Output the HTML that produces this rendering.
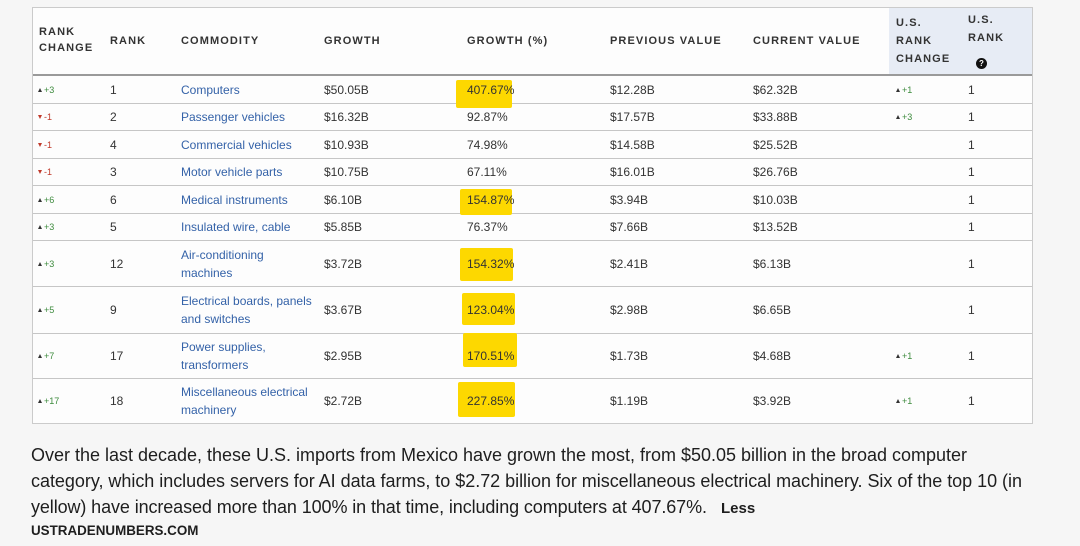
<!DOCTYPE html>
<html><head><meta charset="utf-8">
<style>
*{margin:0;padding:0;box-sizing:border-box}
body{width:1080px;height:546px;background:#f6f6f6;position:relative;overflow:hidden;font-family:"Liberation Sans",Arial,sans-serif}
.box{position:absolute;left:32px;top:7px;width:1001px;height:417px;border:1px solid #cbcbcb;background:#fdfdfd}
.hb{position:absolute;left:889px;top:8px;width:143px;height:67px;background:#e7ecf5}
.ln{position:absolute;left:33px;width:999px;height:1px;background:#c6c6c6}
.hl{position:absolute;background:#fdd800;border-radius:2px}
.h{position:absolute;font-weight:bold;font-size:11px;letter-spacing:1.1px;color:#333;line-height:16px}
.r{position:absolute;left:0;width:1080px}
.c{position:absolute;top:0;bottom:0;display:flex;align-items:center;font-size:12px;color:#333;line-height:18px;white-space:nowrap}
.b{color:#3462a8}
.rc{font-size:9px;color:#3d8b3d}
.rc.d{color:#c0392b}
.up{display:inline-block;width:0;height:0;border-left:2.5px solid transparent;border-right:2.5px solid transparent;border-bottom:4px solid #333;margin-right:2px;vertical-align:1px}
.dn{display:inline-block;width:0;height:0;border-left:2.5px solid transparent;border-right:2.5px solid transparent;border-top:4px solid #c0392b;margin-right:2px;vertical-align:0px}
.q{display:inline-block;width:11px;height:11px;border-radius:50%;background:#111;color:#fff;font-size:8px;font-weight:bold;line-height:11px;text-align:center;letter-spacing:0}
</style></head><body>
<div class="box"></div>
<div class="hb"></div>

<!-- header -->
<div class="h" style="left:39px;top:24px">RANK<br>CHANGE</div>
<div class="h" style="left:110px;top:33px">RANK</div>
<div class="h" style="left:181px;top:33px">COMMODITY</div>
<div class="h" style="left:324px;top:33px">GROWTH</div>
<div class="h" style="left:467px;top:33px">GROWTH (%)</div>
<div class="h" style="left:610px;top:33px">PREVIOUS VALUE</div>
<div class="h" style="left:753px;top:33px">CURRENT VALUE</div>
<div class="h" style="left:896px;top:14px;line-height:18px">U.S.<br>RANK<br>CHANGE</div>
<div class="h" style="left:968px;top:11px;line-height:18px">U.S.<br>RANK</div>
<div style="position:absolute;left:976px;top:53px"><span class="q">?</span></div>

<!-- lines -->
<div class="ln" style="top:74px;height:2px;background:#9a9a9a"></div>
<div class="ln" style="top:103px"></div>
<div class="ln" style="top:130px"></div>
<div class="ln" style="top:158px"></div>
<div class="ln" style="top:185px"></div>
<div class="ln" style="top:213px"></div>
<div class="ln" style="top:240px"></div>
<div class="ln" style="top:286px"></div>
<div class="ln" style="top:333px"></div>
<div class="ln" style="top:378px"></div>

<!-- highlights -->
<div class="hl" style="left:456px;top:80px;width:56px;height:28px"></div>
<div class="hl" style="left:460px;top:189px;width:52px;height:26px"></div>
<div class="hl" style="left:460px;top:248px;width:53px;height:33px"></div>
<div class="hl" style="left:462px;top:293px;width:53px;height:32px"></div>
<div class="hl" style="left:463px;top:333px;width:54px;height:34px"></div>
<div class="hl" style="left:458px;top:382px;width:57px;height:35px"></div>

<!-- rows -->
<div class="r" style="top:76px;height:27px">
<div class="c rc" style="left:38px"><span class="up"></span>+3</div><div class="c" style="left:110px">1</div><div class="c b" style="left:181px">Computers</div><div class="c" style="left:324px">$50.05B</div><div class="c" style="left:467px">407.67%</div><div class="c" style="left:610px">$12.28B</div><div class="c" style="left:753px">$62.32B</div><div class="c rc" style="left:896px"><span class="up"></span>+1</div><div class="c" style="left:968px">1</div>
</div>
<div class="r" style="top:104px;height:26px">
<div class="c rc d" style="left:38px"><span class="dn"></span>-1</div><div class="c" style="left:110px">2</div><div class="c b" style="left:181px">Passenger vehicles</div><div class="c" style="left:324px">$16.32B</div><div class="c" style="left:467px">92.87%</div><div class="c" style="left:610px">$17.57B</div><div class="c" style="left:753px">$33.88B</div><div class="c rc" style="left:896px"><span class="up"></span>+3</div><div class="c" style="left:968px">1</div>
</div>
<div class="r" style="top:131px;height:27px">
<div class="c rc d" style="left:38px"><span class="dn"></span>-1</div><div class="c" style="left:110px">4</div><div class="c b" style="left:181px">Commercial vehicles</div><div class="c" style="left:324px">$10.93B</div><div class="c" style="left:467px">74.98%</div><div class="c" style="left:610px">$14.58B</div><div class="c" style="left:753px">$25.52B</div><div class="c" style="left:968px">1</div>
</div>
<div class="r" style="top:159px;height:26px">
<div class="c rc d" style="left:38px"><span class="dn"></span>-1</div><div class="c" style="left:110px">3</div><div class="c b" style="left:181px">Motor vehicle parts</div><div class="c" style="left:324px">$10.75B</div><div class="c" style="left:467px">67.11%</div><div class="c" style="left:610px">$16.01B</div><div class="c" style="left:753px">$26.76B</div><div class="c" style="left:968px">1</div>
</div>
<div class="r" style="top:186px;height:27px">
<div class="c rc" style="left:38px"><span class="up"></span>+6</div><div class="c" style="left:110px">6</div><div class="c b" style="left:181px">Medical instruments</div><div class="c" style="left:324px">$6.10B</div><div class="c" style="left:467px">154.87%</div><div class="c" style="left:610px">$3.94B</div><div class="c" style="left:753px">$10.03B</div><div class="c" style="left:968px">1</div>
</div>
<div class="r" style="top:214px;height:26px">
<div class="c rc" style="left:38px"><span class="up"></span>+3</div><div class="c" style="left:110px">5</div><div class="c b" style="left:181px">Insulated wire, cable</div><div class="c" style="left:324px">$5.85B</div><div class="c" style="left:467px">76.37%</div><div class="c" style="left:610px">$7.66B</div><div class="c" style="left:753px">$13.52B</div><div class="c" style="left:968px">1</div>
</div>
<div class="r" style="top:241px;height:45px">
<div class="c rc" style="left:38px"><span class="up"></span>+3</div><div class="c" style="left:110px">12</div><div class="c b" style="left:181px">Air-conditioning<br>machines</div><div class="c" style="left:324px">$3.72B</div><div class="c" style="left:467px">154.32%</div><div class="c" style="left:610px">$2.41B</div><div class="c" style="left:753px">$6.13B</div><div class="c" style="left:968px">1</div>
</div>
<div class="r" style="top:287px;height:46px">
<div class="c rc" style="left:38px"><span class="up"></span>+5</div><div class="c" style="left:110px">9</div><div class="c b" style="left:181px">Electrical boards, panels<br>and switches</div><div class="c" style="left:324px">$3.67B</div><div class="c" style="left:467px">123.04%</div><div class="c" style="left:610px">$2.98B</div><div class="c" style="left:753px">$6.65B</div><div class="c" style="left:968px">1</div>
</div>
<div class="r" style="top:334px;height:44px">
<div class="c rc" style="left:38px"><span class="up"></span>+7</div><div class="c" style="left:110px">17</div><div class="c b" style="left:181px">Power supplies,<br>transformers</div><div class="c" style="left:324px">$2.95B</div><div class="c" style="left:467px">170.51%</div><div class="c" style="left:610px">$1.73B</div><div class="c" style="left:753px">$4.68B</div><div class="c rc" style="left:896px"><span class="up"></span>+1</div><div class="c" style="left:968px">1</div>
</div>
<div class="r" style="top:379px;height:44px">
<div class="c rc" style="left:38px"><span class="up"></span>+17</div><div class="c" style="left:110px">18</div><div class="c b" style="left:181px">Miscellaneous electrical<br>machinery</div><div class="c" style="left:324px">$2.72B</div><div class="c" style="left:467px">227.85%</div><div class="c" style="left:610px">$1.19B</div><div class="c" style="left:753px">$3.92B</div><div class="c rc" style="left:896px"><span class="up"></span>+1</div><div class="c" style="left:968px">1</div>
</div>

<!-- caption -->
<svg style="position:absolute;left:0;top:0" width="1080" height="546" xmlns="http://www.w3.org/2000/svg">
<g font-family="Liberation Sans, Arial, sans-serif" font-size="18" fill="#1e1e1e">
<text x="31" y="461" textLength="936" lengthAdjust="spacing">Over the last decade, these U.S. imports from Mexico have grown the most, from $50.05 billion in the broad computer</text>
<text x="31" y="487" textLength="991" lengthAdjust="spacing">category, which includes servers for AI data farms, to $2.72 billion for miscellaneous electrical machinery. Six of the top 10 (in</text>
<text x="31" y="513" textLength="676" lengthAdjust="spacing">yellow) have increased more than 100% in that time, including computers at 407.67%.</text>
<text x="721" y="513" font-weight="bold" font-size="15">Less</text>
</g>
<text x="31" y="535" font-family="Liberation Sans, Arial, sans-serif" font-size="13.4" font-weight="bold" fill="#1e1e1e">USTRADENUMBERS.COM</text>
</svg>
</body></html>
